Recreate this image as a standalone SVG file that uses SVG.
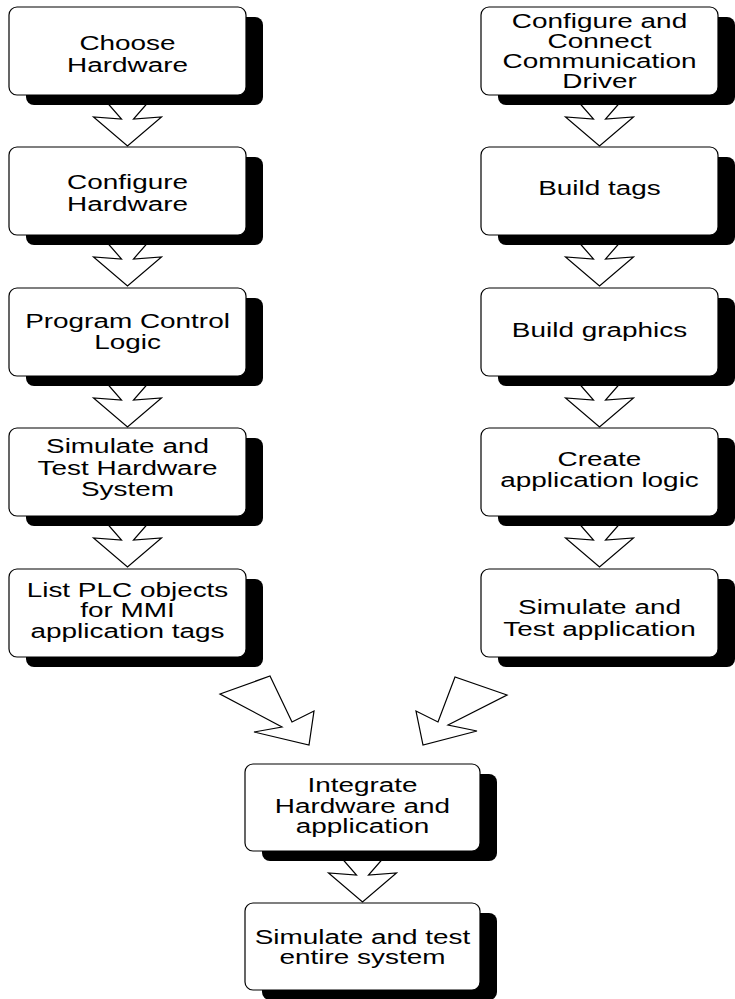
<svg xmlns="http://www.w3.org/2000/svg" xmlns:xlink="http://www.w3.org/1999/xlink" width="735" height="999" viewBox="0 0 735 999">
  <style>
    .box { fill: #ffffff; stroke: #000000; stroke-width: 1.2; }
    .shadow { fill: #000000; stroke: none; }
    .arrow { fill: #ffffff; stroke: #000000; stroke-width: 1.2; stroke-linejoin: miter; }
    .label { font-family: "Liberation Sans", Arial, sans-serif; font-size: 21px; fill: #000000; text-anchor: middle; }
  </style>
  <defs>
    <!-- hollow block arrow, origin at the top centre of its stem -->
    <polygon id="down-arrow" class="arrow" points="-27,0 -6,24 -34,22 0,51 34,22 6,24 27,0"/>
  </defs>

  <g id="connectors">
    <!-- left column -->
    <use xlink:href="#down-arrow" href="#down-arrow" x="127.5" y="95"/>
    <use xlink:href="#down-arrow" href="#down-arrow" x="127.5" y="235"/>
    <use xlink:href="#down-arrow" href="#down-arrow" x="127.5" y="376"/>
    <use xlink:href="#down-arrow" href="#down-arrow" x="127.5" y="516"/>
    <!-- right column -->
    <use xlink:href="#down-arrow" href="#down-arrow" x="599.5" y="95"/>
    <use xlink:href="#down-arrow" href="#down-arrow" x="599.5" y="235"/>
    <use xlink:href="#down-arrow" href="#down-arrow" x="599.5" y="376"/>
    <use xlink:href="#down-arrow" href="#down-arrow" x="599.5" y="516"/>
    <!-- merge arrows -->
    <polygon class="arrow" points="220,694 270,676 292,722 314,711 309,745 254,732 282,727"/>
    <polygon class="arrow" points="507,695 455,677 438,722 416,711 423,745 477,731 448,725"/>
    <!-- bottom -->
    <use xlink:href="#down-arrow" href="#down-arrow" x="362.5" y="851"/>
  </g>

  <!-- left column: hardware -->
  <g id="choose-hardware">
    <rect class="shadow" x="26" y="17" width="237" height="88" rx="8"/>
    <rect class="box" x="9" y="7" width="237" height="88" rx="8"/>
    <text class="label" transform="translate(127.5 0) scale(1.33 1)"><tspan x="0" y="50">Choose</tspan><tspan x="0" y="72">Hardware</tspan></text>
  </g>
  <g id="configure-hardware">
    <rect class="shadow" x="26" y="157" width="237" height="88" rx="8"/>
    <rect class="box" x="9" y="147" width="237" height="88" rx="8"/>
    <text class="label" transform="translate(127.5 0) scale(1.33 1)"><tspan x="0" y="189">Configure</tspan><tspan x="0" y="211">Hardware</tspan></text>
  </g>
  <g id="program-control-logic">
    <rect class="shadow" x="26" y="298" width="237" height="88" rx="8"/>
    <rect class="box" x="9" y="288" width="237" height="88" rx="8"/>
    <text class="label" transform="translate(127.5 0) scale(1.33 1)"><tspan x="0" y="328">Program Control</tspan><tspan x="0" y="349">Logic</tspan></text>
  </g>
  <g id="simulate-test-hardware">
    <rect class="shadow" x="26" y="438" width="237" height="88" rx="8"/>
    <rect class="box" x="9" y="428" width="237" height="88" rx="8"/>
    <text class="label" transform="translate(127.5 0) scale(1.33 1)"><tspan x="0" y="453">Simulate and</tspan><tspan x="0" y="475">Test Hardware</tspan><tspan x="0" y="496">System</tspan></text>
  </g>
  <g id="list-plc-objects">
    <rect class="shadow" x="26" y="579" width="237" height="88" rx="8"/>
    <rect class="box" x="9" y="569" width="237" height="88" rx="8"/>
    <text class="label" transform="translate(127.5 0) scale(1.33 1)"><tspan x="0" y="597">List PLC objects</tspan><tspan x="0" y="617">for MMI</tspan><tspan x="0" y="638">application tags</tspan></text>
  </g>

  <!-- right column: application -->
  <g id="configure-driver">
    <rect class="shadow" x="498" y="17" width="237" height="88" rx="8"/>
    <rect class="box" x="481" y="7" width="237" height="88" rx="8"/>
    <text class="label" transform="translate(599.5 0) scale(1.33 1)"><tspan x="0" y="28">Configure and</tspan><tspan x="0" y="48">Connect</tspan><tspan x="0" y="68">Communication</tspan><tspan x="0" y="88">Driver</tspan></text>
  </g>
  <g id="build-tags">
    <rect class="shadow" x="498" y="157" width="237" height="88" rx="8"/>
    <rect class="box" x="481" y="147" width="237" height="88" rx="8"/>
    <text class="label" transform="translate(599.5 0) scale(1.33 1)"><tspan x="0" y="195">Build tags</tspan></text>
  </g>
  <g id="build-graphics">
    <rect class="shadow" x="498" y="298" width="237" height="88" rx="8"/>
    <rect class="box" x="481" y="288" width="237" height="88" rx="8"/>
    <text class="label" transform="translate(599.5 0) scale(1.33 1)"><tspan x="0" y="337">Build graphics</tspan></text>
  </g>
  <g id="create-application-logic">
    <rect class="shadow" x="498" y="438" width="237" height="88" rx="8"/>
    <rect class="box" x="481" y="428" width="237" height="88" rx="8"/>
    <text class="label" transform="translate(599.5 0) scale(1.33 1)"><tspan x="0" y="466">Create</tspan><tspan x="0" y="487">application logic</tspan></text>
  </g>
  <g id="simulate-test-application">
    <rect class="shadow" x="498" y="579" width="237" height="88" rx="8"/>
    <rect class="box" x="481" y="569" width="237" height="88" rx="8"/>
    <text class="label" transform="translate(599.5 0) scale(1.33 1)"><tspan x="0" y="614">Simulate and</tspan><tspan x="0" y="636">Test application</tspan></text>
  </g>

  <!-- merged steps -->
  <g id="integrate">
    <rect class="shadow" x="262" y="774" width="235" height="87" rx="8"/>
    <rect class="box" x="245" y="764" width="235" height="87" rx="8"/>
    <text class="label" transform="translate(362.5 0) scale(1.33 1)"><tspan x="0" y="792">Integrate</tspan><tspan x="0" y="813">Hardware and</tspan><tspan x="0" y="833">application</tspan></text>
  </g>
  <g id="simulate-entire-system">
    <rect class="shadow" x="262" y="913" width="235" height="87" rx="8"/>
    <rect class="box" x="245" y="903" width="235" height="87" rx="8"/>
    <text class="label" transform="translate(362.5 0) scale(1.33 1)"><tspan x="0" y="944">Simulate and test</tspan><tspan x="0" y="964">entire system</tspan></text>
  </g>
</svg>
